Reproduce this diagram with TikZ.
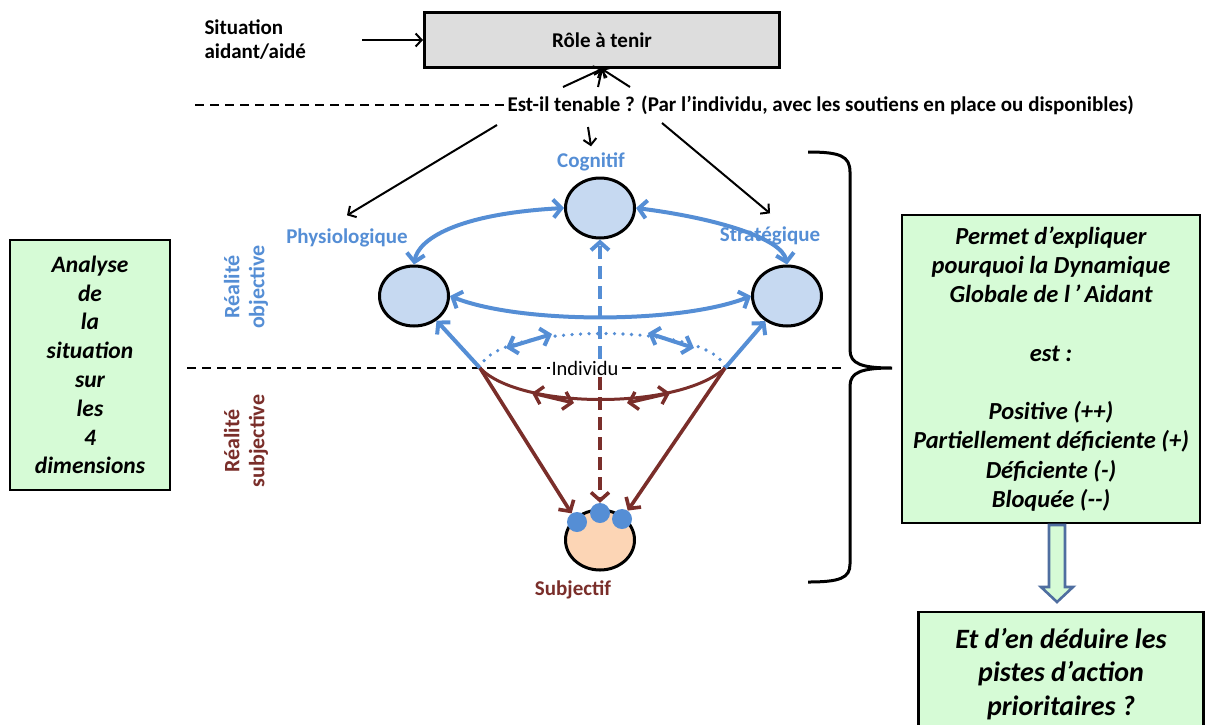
\documentclass[tikz,border=0pt]{standalone}
\usepackage{fontspec}
\setmainfont{Carlito}
\usetikzlibrary{arrows.meta,positioning,calc,shapes.geometric}
\definecolor{objblue}{RGB}{85,142,213}
\definecolor{subjred}{RGB}{122,46,42}
\definecolor{ovalblue}{RGB}{198,217,241}
\definecolor{peach}{RGB}{252,213,181}
\definecolor{boxgreen}{RGB}{214,251,214}
\definecolor{rolegray}{RGB}{221,221,221}
\definecolor{arrowedge}{RGB}{79,110,160}

\begin{document}
\begin{tikzpicture}[x=1pt,y=-1pt,
  oval/.style={ellipse,draw=black,line width=3pt,fill=ovalblue,minimum width=69pt,minimum height=60pt,inner sep=0pt},
  dot/.style={circle,fill=objblue,minimum size=20pt,inner sep=0pt},
  dim/.style={font=\bfseries\fontsize{21}{24}\selectfont},
  greenbox/.style={draw=black,line width=2.6pt,fill=boxgreen,align=center,font=\bfseries\itshape\fontsize{24.5}{29.2}\selectfont},
  blk/.style={black,line width=2pt,-{Straight Barb[length=6pt,width=13pt]}},
  bone/.style={objblue,line width=4pt,-{Straight Barb[length=8pt,width=18pt]}},
  blink/.style={objblue,line width=4pt,{Straight Barb[length=8pt,width=18pt]}-{Straight Barb[length=8pt,width=18pt]}},
  rone/.style={subjred,line width=3.6pt,-{Straight Barb[length=8pt,width=18pt]}},
  rlink/.style={subjred,line width=3.4pt,{Straight Barb[length=8pt,width=18pt]}-{Straight Barb[length=8pt,width=18pt]}},
  sep/.style={black,line width=1.8pt,dash pattern=on 9pt off 6pt}]
  \clip (0,0) rectangle (1210,724);

  % top: role and question
  \node[draw=black,line width=3pt,fill=rolegray,minimum width=355pt,minimum height=55pt,dim] (role) at (602,40) {Rôle à tenir};
  \node[anchor=west,align=left,dim] (sit) at (201,40) {Situation\\aidant/aidé};
  \node[anchor=west,dim] (tenable) at (504,105) {Est-il tenable ? (Par l’individu, avec les soutiens en place ou disponibles)};
  \coordinate (sitend) at (362,40);
  \draw[blk] (sitend) -- (role.west);
  \coordinate (dashL) at (195,105);
  \draw[sep] (dashL) -- (tenable.west);
  \coordinate (t1) at (563,87);
  \coordinate (t2) at (598,87);
  \coordinate (t3) at (630,87);
  \draw[blk] (t1) -- (role.south);
  \draw[blk] (t2) -- (role.south);
  \draw[blk] (t3) -- (role.south);

  % the four dimensions
  \node[oval] (cog) at (600,208) {};
  \node[oval] (phys) at (414,296) {};
  \node[oval] (strat) at (787,296) {};
  \node[oval,fill=peach] (subj) at (600,540) {};
  \node[dim,text=objblue] (coglbl) at (591,162) {Cognitif};
  \node[dim,text=objblue] (physlbl) at (347,238) {Physiologique};
  \node[dim,text=subjred] (subjlbl) at (573,590) {Subjectif};

  \coordinate (b1) at (497,125);
  \coordinate (b2) at (588,127);
  \coordinate (b3) at (662,123);
  \draw[blk] (b1) -- ([yshift=10pt]physlbl.north);
  \draw[blk] (b2) -- ([yshift=3pt]coglbl.north);

  % separation objective / subjective
  \coordinate (sepL) at (187,368);
  \coordinate (sepR) at (845,368);
  \coordinate (bl) at (480,368);
  \coordinate (br) at (725,368);
  \draw[sep] (sepL) -- (sepR);

  \draw[blink] (phys.north) .. controls (418,240) and (455,214) .. (cog.west);
  \draw[blink] (cog.east) .. controls (715,218) and (782,238) .. (strat.north);
  \draw[blink] (phys.east) .. controls (520,324) and (680,324) .. (strat.west);
  \node[dim,text=objblue] (stratlbl) at (770,236) {Stratégique};
  \draw[blk] (b3) -- ([yshift=10pt]stratlbl.north);

  \draw[objblue,line width=3.6pt,dash pattern=on 0pt off 8.5pt,line cap=round] (bl) .. controls (492,322) and (713,322) .. (br);
  \coordinate (da) at (506,348);
  \coordinate (db) at (552,334);
  \coordinate (dc) at (648,333);
  \coordinate (dd) at (694,348);
  \draw[blink] (da) -- (db);
  \draw[blink] (dc) -- (dd);
  \draw[bone] (bl) -- (phys);
  \draw[bone] (br) -- (strat);

  \draw[subjred,line width=3pt] (bl) .. controls (520,410) and (680,410) .. (br);
  \coordinate (ra) at (532,393);
  \coordinate (rb) at (574,403);
  \coordinate (rc) at (627,403);
  \coordinate (rd) at (670,393);
  \draw[rlink] (ra) -- (rb);
  \draw[rlink] (rc) -- (rd);

  \node[dot] (d1) at (577,522) {};
  \node[dot] (d2) at (600,513) {};
  \node[dot] (d3) at (622,519) {};
  \draw[rone] (bl) -- (d1);
  \draw[rone] (br) -- (d3);

  \node[fill=white,inner sep=2pt,font=\fontsize{20.5}{22}\selectfont] (indiv) at (585,368) {Individu};
  \draw[bone,dash pattern=on 13pt off 7pt] (cog.south |- indiv.north) -- (cog.south);
  \draw[rone,dash pattern=on 13pt off 7pt] (d2.north |- indiv.south) -- (d2.north);

  \node[rotate=90,align=center,text=objblue,font=\bfseries\fontsize{22}{25}\selectfont] (objlbl) at (246,287) {Réalité\\objective};
  \node[rotate=90,align=center,text=subjred,font=\bfseries\fontsize{22}{25}\selectfont] (subjrl) at (246,441) {Réalité\\subjective};

  % left and right boxes
  \node[greenbox,minimum width=160pt,minimum height=250pt,font=\bfseries\itshape\fontsize{23.5}{28.8}\selectfont] (analyse) at (90,365)
    {Analyse\\de\\la\\situation\\sur\\les\\4\\dimensions};
  \draw[line width=3pt] (808,152) .. controls (840,152) and (850,156) .. (850,172) -- (850,350)
    .. controls (850,364) and (862,368) .. (892,368) .. controls (862,368) and (850,372) .. (850,386)
    -- (850,564) .. controls (850,578) and (840,582) .. (808,582);
  \node[greenbox,minimum width=298pt,minimum height=308pt] (expl) at (1051,369)
    {Permet d’expliquer\\pourquoi la Dynamique\\Globale de l\,’\,Aidant\\[29.2pt]est :\\[29.2pt]Positive (++)\\Partiellement déficiente (+)\\Déficiente (-)\\Bloquée (-{}-)};
  \node[greenbox,minimum width=285pt,minimum height=124pt,font=\bfseries\itshape\fontsize{28}{33.5}\selectfont] (pistes) at (1061,674)
    {Et d’en déduire les\\pistes d’action\\prioritaires ?};
  \coordinate (harrow) at (1057,525);
  \draw[arrowedge,line width=2.6pt,fill=boxgreen,line join=miter] ($(harrow)+(-8,0)$) -- ($(harrow)+(8,0)$) -- ($(harrow)+(8,62)$)
    -- ($(harrow)+(16,62)$) -- ($(harrow)+(0,77)$) -- ($(harrow)+(-16,62)$) -- ($(harrow)+(-8,62)$) -- cycle;
\end{tikzpicture}
\end{document}
